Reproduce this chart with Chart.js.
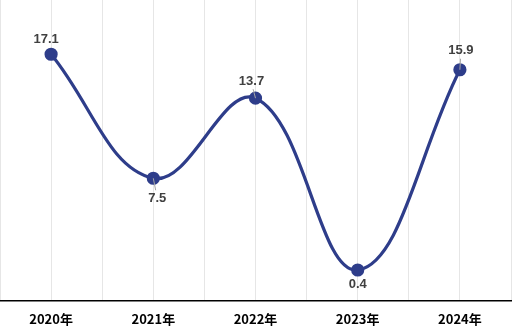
<!DOCTYPE html>
<html><head><meta charset="utf-8">
<script src="https://cdn.jsdelivr.net/npm/chart.js@4"></script>
<style>html,body{margin:0;padding:0;background:#fff;}#wrap{width:513px;height:333px;}</style>
</head><body><div id="wrap"><canvas id="c" width="513" height="333"></canvas></div>
<script>
const categories = ['2020年','2021年','2022年','2023年','2024年'];
const values = [17.1, 7.5, 13.7, 0.4, 15.9];
const labelSide = ['above','below','above','below','above'];

const lineColor = '#2E3D8A';
const labelPlugin = {
  id: 'pointLabels',
  afterDatasetsDraw(chart, args, opts) {
    const ctx = chart.ctx;
    const meta = chart.getDatasetMeta(0);
    ctx.save();
    meta.data.forEach((pt, i) => {
      const above = labelSide[i] === 'above';
      const dx = opts.dx[i];
      const dy = opts.dy[i];
      const ly = above ? pt.y - dy : pt.y + dy;
      if (opts.leader[i]) {
        ctx.strokeStyle = '#A6A6A6';
        ctx.lineWidth = 1;
        ctx.beginPath();
        ctx.moveTo(pt.x, pt.y);
        ctx.lineTo(pt.x + dx * 0.6, above ? ly + 8 : ly - 8);
        ctx.stroke();
      }
    });
    ctx.font = 'bold 13px "Liberation Sans", Arial, sans-serif';
    ctx.fillStyle = '#404040';
    ctx.textAlign = 'center';
    ctx.textBaseline = 'middle';
    meta.data.forEach((pt, i) => {
      const above = labelSide[i] === 'above';
      const ly = above ? pt.y - opts.dy[i] : pt.y + opts.dy[i];
      ctx.fillText(values[i].toFixed(1), pt.x + opts.dx[i], ly);
    });
    ctx.restore();
  }
};

new Chart(document.getElementById('c'), {
  type: 'line',
  data: {
    datasets: [{
      data: values.map((v, i) => ({x: i, y: v})),
      borderColor: lineColor,
      backgroundColor: lineColor,
      borderWidth: 3.2,
      pointRadius: 5,
      pointHoverRadius: 5,
      tension: 0.4,
      fill: false
    }]
  },
  options: {
    responsive: false,
    animation: false,
    layout: {autoPadding: false, padding: {left: 0, right: 2, top: 0, bottom: 0}},
    plugins: {
      legend: {display: false}, tooltip: {enabled: false},
      pointLabels: {dx: [-5, 4, -4, 0, 1], dy: [15, 20, 17, 14, 19], leader: [false, true, true, false, true]}
    },
    scales: {
      x: {
        type: 'linear',
        min: -0.5, max: 4.5,
        afterBuildTicks(axis) {
          const t = [];
          for (let k = 0; k <= 10; k++) t.push({value: -0.5 + k * 0.5});
          axis.ticks = t;
        },
        afterFit(axis) { axis.paddingLeft = 0; axis.paddingRight = 0; axis.height = 32; },
        ticks: {
          autoSkip: false, maxRotation: 0,
          padding: 10,
          color: '#000',
          font: {family: '"Noto Sans CJK SC", "Liberation Sans", sans-serif', size: 13, weight: 'bold'},
          callback(v) { return Number.isInteger(v) ? categories[v] : ''; }
        },
        grid: {color: '#E6E6E6', lineWidth: 1, drawTicks: false},
        border: {display: true, color: '#000', width: 1.5}
      },
      y: {
        display: false,
        min: -2, max: 21.3
      }
    }
  },
  plugins: [labelPlugin]
});
</script></body></html>
